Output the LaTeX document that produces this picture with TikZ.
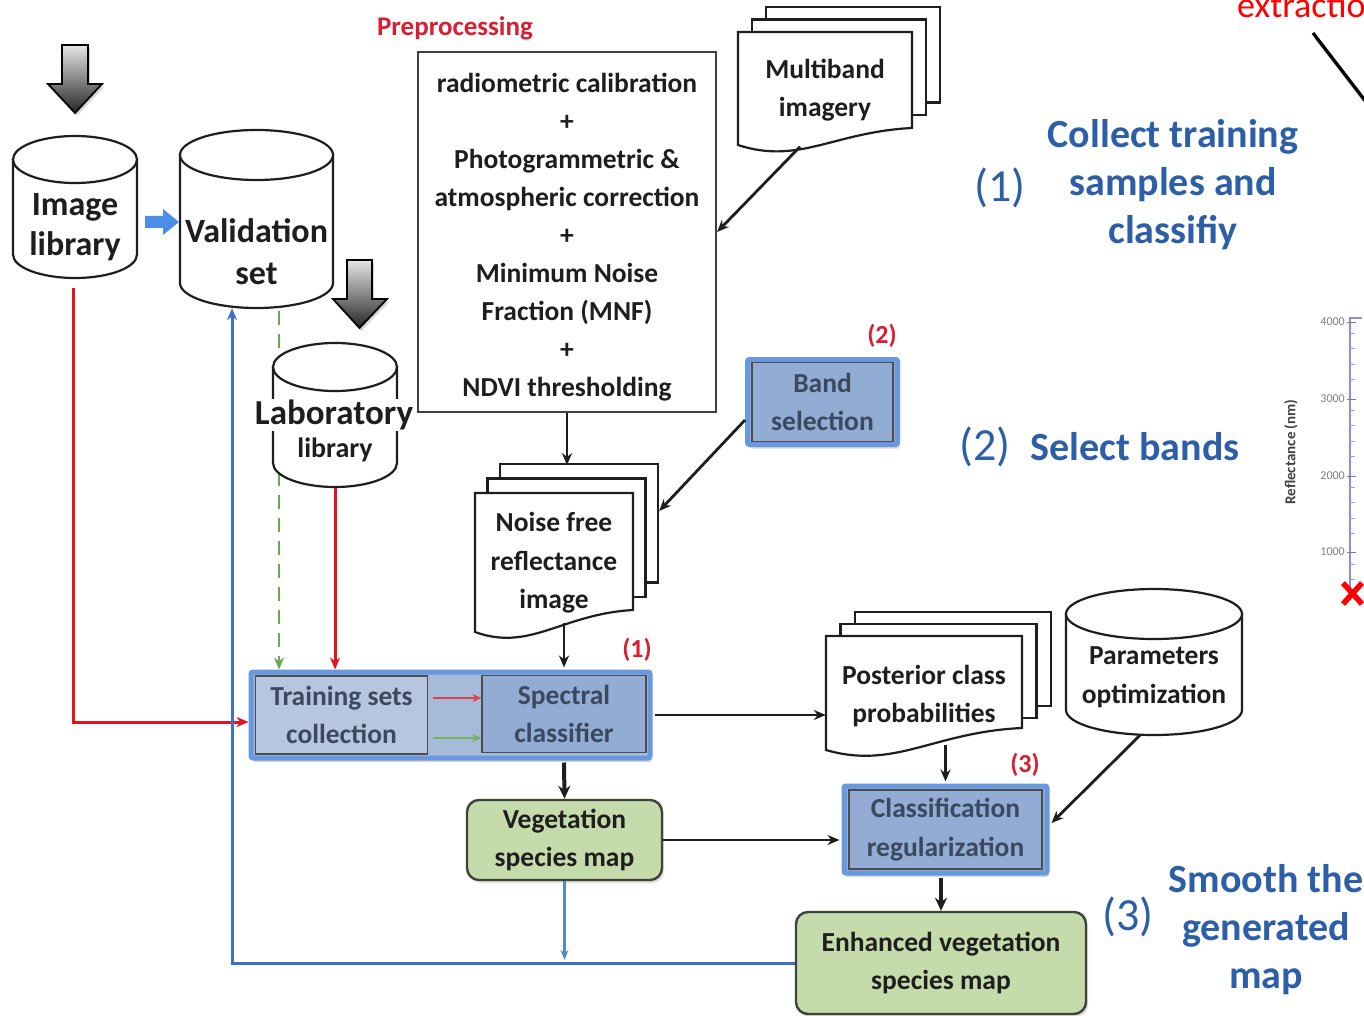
\documentclass[tikz,border=0pt]{standalone}
\usepackage{fontspec}
\setmainfont{Carlito}
\usetikzlibrary{arrows.meta,shadows,calc}
\pgfdeclarelayer{bg}\pgfdeclarelayer{conn}\pgfsetlayers{bg,conn,main}
\definecolor{ink}{HTML}{1E1E1E}
\definecolor{redl}{HTML}{E3141B}
\definecolor{greenl}{HTML}{6BA84F}
\definecolor{bluel}{HTML}{3F6FC8}
\definecolor{bluel2}{HTML}{5389C9}
\definecolor{bluebord}{HTML}{6A98DE}
\definecolor{fillA}{HTML}{B6C6DE}
\definecolor{fillB}{HTML}{93ACD3}
\definecolor{fillM}{HTML}{A6BAD9}
\definecolor{boxtxt}{HTML}{3A4860}
\definecolor{gfill}{HTML}{C5DBAC}
\definecolor{gbord}{HTML}{3C4636}
\definecolor{labred}{HTML}{D61F30}
\definecolor{stepblue}{HTML}{2D5EA8}
\definecolor{arrowblue}{HTML}{4B8EEA}
\definecolor{axiscol}{HTML}{8C8CD8}

\newcommand\DbCyl[5]{%
 \pgfmathsetmacro\CyL{#1-#4}\pgfmathsetmacro\CyR{#1+#4}%
 \pgfmathsetmacro\CyT{#2+#5}\pgfmathsetmacro\CyB{#3-#5}%
 \pgfmathsetmacro\CyKx{0.5523*#4}\pgfmathsetmacro\CyKy{0.5523*#5}%
 \filldraw[cylline] (\CyL,\CyT) -- (\CyL,\CyB) .. controls +(0,\CyKy) and +(-\CyKx,0) .. (#1,#3) .. controls +(\CyKx,0) and +(0,\CyKy) .. (\CyR,\CyB) -- (\CyR,\CyT) -- cycle;
 \filldraw[cylline] (#1,\CyT) ellipse [x radius=#4, y radius=#5];
}
\newcommand\DocStack[8]{%
 \pgfmathsetmacro\DsAx{#1+2*#6}\pgfmathsetmacro\DsAy{#2-2*#7}\pgfmathsetmacro\DsAr{#3+2*#6}\pgfmathsetmacro\DsAb{#8-#7}%
 \pgfmathsetmacro\DsBx{#1+#6}\pgfmathsetmacro\DsBy{#2-#7}\pgfmathsetmacro\DsBr{#3+#6}%
 \filldraw[docline] (\DsAx,\DsAy) rectangle (\DsAr,\DsAb);
 \filldraw[docline] (\DsBx,\DsBy) rectangle (\DsBr,#8);
 \pgfmathsetmacro\DsW{#3-#1}%
 \pgfmathsetmacro\DsCa{#3-0.45*\DsW}\pgfmathsetmacro\DsCb{#1+0.35*\DsW}%
 \pgfmathsetmacro\DsYa{#5+4}\pgfmathsetmacro\DsYb{#4+20}%
 \filldraw[docline] (#1,#2) -- (#3,#2) -- (#3,#5) .. controls (\DsCa,\DsYa) and (\DsCb,\DsYb) .. (#1,#4) -- cycle;
}

\begin{document}
\begin{tikzpicture}[x=1pt,y=-1pt,
 tx/.style={font=\bfseries\fontsize{27.5}{38.5}\selectfont, align=center, text=ink, inner sep=0pt},
 cont/.style={draw=none, inner sep=0pt},
 cylline/.style={draw=ink, fill=white, line width=2.2pt},
 docline/.style={draw=ink, fill=white, line width=2.2pt},
 bluebox/.style={draw=bluebord, line width=5pt, fill=fillB, rounded corners=2pt,
   drop shadow={shadow xshift=2pt, shadow yshift=-4pt, opacity=0.3}},
 innerbox/.style={tx, draw=gray!60!black, line width=1.2pt, text=boxtxt},
 greenbox/.style={tx, draw=gbord, line width=2.4pt, fill=gfill, rounded corners=12pt,
   drop shadow={shadow xshift=2pt, shadow yshift=-3pt, opacity=0.25}},
 arr/.style={draw=ink, line width=2.8pt, -{Stealth[length=12pt,width=10pt]}},
 thickarr/.style={draw=ink, line width=4pt, -{Stealth[length=13pt,width=12pt]}},
 redline/.style={draw=redl, line width=3pt, -{Stealth[length=12pt,width=10pt]}},
 greenline/.style={draw=greenl, line width=2.8pt, dashed, dash pattern=on 14pt off 9pt, -{Stealth[length=12pt,width=10pt]}},
 blueline/.style={draw=bluel, line width=3pt, -{Stealth[length=12pt,width=10pt]}},
 redlab/.style={font=\bfseries\fontsize{26}{26}\selectfont, text=labred, inner sep=0pt},
 stepnum/.style={font=\fontsize{46}{46}\selectfont, text=stepblue, inner sep=0pt},
 steptxt/.style={font=\bfseries\fontsize{40}{48}\selectfont, text=stepblue, align=center, inner sep=0pt},
 ticklab/.style={font=\fontsize{12}{12}\selectfont, text=gray, inner sep=0pt, anchor=east},
 downarr/.style={draw=black, line width=1.8pt, top color=gray!20, bottom color=black!85,
   drop shadow={shadow xshift=2pt, shadow yshift=-3pt, opacity=0.3}}
]
\useasboundingbox (0,0) rectangle (1364,1016);
\begin{pgfonlayer}{bg}\fill[white] (0,0) rectangle (1364,1016);\end{pgfonlayer}

% ---- big gray down arrows
\path[downarr] (62,45) -- (88,45) -- (88,84) -- (102,84) -- (75,113) -- (48,84) -- (62,84) -- cycle;
\path[downarr] (347,260) -- (372,260) -- (372,299) -- (387,299) -- (359.5,328) -- (333,299) -- (347,299) -- cycle;

% ---- cylinders
\node[cont, minimum width=124pt, minimum height=142pt] (imglib) at (75,207) {};
\DbCyl{75}{136}{278}{62}{23.5}
\node[tx, font=\bfseries\fontsize{34}{40}\selectfont] (imglibt) at (75,227) {Image\\library};

\node[cont, minimum width=153pt, minimum height=178pt] (vset) at (256.5,219) {};
\DbCyl{256.5}{130}{308}{76.5}{25}
\node[tx, font=\bfseries\fontsize{34}{42}\selectfont] (vsett) at (256.5,252) {Validation\\set};

\fill[arrowblue] (145,216) -- (163,216) -- (163,209) -- (179,222) -- (163,235) -- (163,228) -- (145,228) -- cycle;

\node[cont, minimum width=124pt, minimum height=144pt] (lab) at (335,415) {};
\DbCyl{335}{343}{487}{62}{24}
\node[tx, font=\bfseries\fontsize{35}{35}\selectfont, fill=white, inner sep=1pt] (labt) at (334,415) {Laboratory};
\node[tx, font=\bfseries\fontsize{28}{28}\selectfont] (labl) at (335,450) {library};

\node[cont, minimum width=176pt, minimum height=146pt] (par) at (1154,662) {};
\DbCyl{1154}{589}{735}{88}{25}
\node[tx] (part) at (1154,677) {Parameters\\optimization};

% ---- preprocessing
\node[redlab, font=\bfseries\fontsize{27}{27}\selectfont] (pretitle) at (455,28) {Preprocessing};
\node[draw=ink!85, line width=2.2pt, fill=white, minimum width=298pt, minimum height=360pt] (prep) at (567,232) {};
\node[tx, font=\bfseries\fontsize{27.5}{38}\selectfont] (preptxt) at (567,237)
 {radiometric calibration\\+\\Photogrammetric \&\\atmospheric correction\\+\\Minimum Noise\\Fraction (MNF)\\+\\NDVI thresholding};

% ---- document stacks
\DocStack{738}{32}{912}{145}{128}{14}{12.5}{115}
\node[tx, cont, minimum width=174pt, minimum height=113pt] (multi) at (825,90) {Multiband\\imagery};

\DocStack{475}{493}{633}{632}{610}{12.5}{14.5}{597}
\node[tx, cont, minimum width=158pt, minimum height=139pt] (noise) at (554,563) {Noise free\\reflectance\\image};

\DocStack{826}{636}{1022}{750}{728}{14.5}{12}{718}
\node[tx, cont, minimum width=196pt, minimum height=114pt] (post) at (924,696) {Posterior class\\probabilities};

% ---- blue process boxes
\node[bluebox, minimum width=150pt, minimum height=85pt] (bandout) at (822.5,402) {};
\node[innerbox, fill=fillB, minimum width=141pt, minimum height=79pt] (band) at (822.5,402) {Band\\selection};
\node[redlab] (r2) at (882,336) {(2)};

\node[bluebox, fill=fillM, minimum width=399pt, minimum height=86pt] (trout) at (450.5,715) {};
\node[innerbox, fill=fillA, minimum width=172pt, minimum height=78pt] (train) at (341.5,715) {Training sets\\collection};
\node[innerbox, fill=fillB, minimum width=164pt, minimum height=77pt] (spec) at (564,714) {Spectral\\classifier};
\node[redlab] (r1) at (637,650) {(1)};
\draw[draw=labred!85, line width=2.6pt, -{Stealth[length=9pt,width=8pt]}] ([xshift=5pt,yshift=17pt]train.east) -- ([yshift=16pt]spec.west);
\draw[draw=greenl!90, line width=2.6pt, -{Stealth[length=9pt,width=8pt]}] ([xshift=5pt,yshift=-23pt]train.east) -- ([yshift=-24pt]spec.west);

\node[bluebox, minimum width=203pt, minimum height=87pt] (clsout) at (945.5,829.5) {};
\node[innerbox, fill=fillB, minimum width=193pt, minimum height=79pt] (cls) at (945.5,829.5) {Classification\\regularization};
\node[redlab] (r3) at (1025,765) {(3)};

% ---- green result boxes
\node[greenbox, minimum width=195pt, minimum height=80pt] (veg) at (564.5,840) {Vegetation\\species map};
\node[greenbox, minimum width=290pt, minimum height=102pt] (enh) at (941,963) {Enhanced vegetation\\species map};

% ---- connectors
\begin{pgfonlayer}{conn}
\coordinate (gtop) at ($(vset.south)+(22.5,3)$);
\draw[greenline] (gtop) -- (gtop |- trout.north);
\draw[redline] (lab.south) -- (lab.south |- trout.north);
\draw[redline] ($(imglib.south)+(-2,10)$) |- ([yshift=-7pt]trout.west);
\coordinate (bcorner) at (232,963);
\draw[blueline] (enh.west) -- (bcorner) -- (bcorner |- vset.south);
\draw[draw=bluel2, line width=2.2pt, -{Stealth[length=10pt,width=8pt]}] (veg.south) -- ($(veg.south |- bcorner)+(0,-3)$);
\end{pgfonlayer}
\draw[arr] ([xshift=-25pt]multi.south) -- (prep.east);
\draw[arr] (prep.south) -- ++(0,52);
\draw[arr] ([yshift=-18pt]bandout.west) -- ([xshift=26pt,yshift=52pt]noise.east);
\draw[arr] ($(noise.south -| spec.north)+(0,-10)$) -- ($(trout.north -| spec.north)+(0,-2)$);
\draw[thickarr] ($(trout.south -| spec.south)+(0,2)$) -- (veg.north);
\draw[arr] ($(trout.east)+(2,0)$) -- (trout.east -| post.west);
\draw[arr] ($(post.south -| cls.north)+(0,-8)$) -- ($(clsout.north -| cls.north)+(0,-2)$);
\draw[arr] ([xshift=-14pt]par.south) -- ([xshift=2pt,yshift=6.5pt]clsout.east);
\draw[arr] (veg.east) -- ($(veg.east -| clsout.west)+(-2,0)$);
\draw[thickarr] ($(clsout.south -| enh.north)+(0,2)$) -- (enh.north);

% ---- step descriptions
\node[stepnum] (s1n) at (1000,188) {(1)};
\node[steptxt] (s1t) at (1173,185) {Collect training\\samples and\\classifiy};
\node[stepnum] (s2n) at (985,447) {(2)};
\node[steptxt] (s2t) at (1135,447) {Select bands};
\node[stepnum] (s3n) at (1128,917) {(3)};
\node[steptxt] (s3t) at (1266,930) {Smooth the\\generated\\map};

% ---- cut-off elements at the right edge
\begin{scope}
\clip (0,0) rectangle (1364,1016);
\node[anchor=base west, font=\fontsize{36}{36}\selectfont, text=red, inner sep=0pt] (extr) at (1237,18) {extraction};
\draw[line width=3.2pt, black!25] (1316,38) -- (1373,112);
\draw[line width=3.2pt, black] (1313,33) -- (1370,107);
\draw[axiscol, line width=1.4pt] (1362,318) -- (1350,318) -- (1350,592);
\foreach \yy in {333.4,348.8,364.2,379.6,410.4,425.8,441.2,456.6,487.4,502.8,518.2,533.6,564.4,579.8}
  \draw[gray!70, line width=0.8pt] (1350,\yy) -- (1355,\yy);
\foreach \yy in {322,399,476,552}
  \draw[gray, line width=1pt] (1347,\yy) -- (1356,\yy);
\node[ticklab] (t4) at (1345,322) {4000};
\node[ticklab] (t3) at (1345,399) {3000};
\node[ticklab] (t2) at (1345,476) {2000};
\node[ticklab] (t1) at (1345,552) {1000};
\node[rotate=90, font=\bfseries\fontsize{15}{15}\selectfont, text=black!75, inner sep=0pt] (refl) at (1291,452) {Reflectance (nm)};
\draw[red, line width=5.5pt] (1343,583) -- (1362,604) (1362,583) -- (1343,604);
\end{scope}
\end{tikzpicture}
\end{document}
